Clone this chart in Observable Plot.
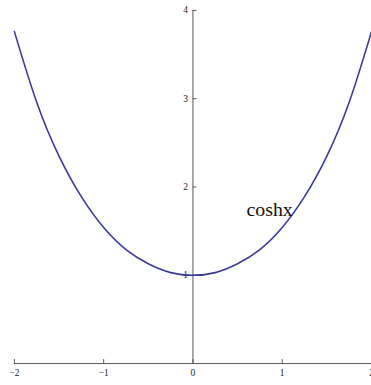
<!DOCTYPE html>
<html>
<head>
<meta charset="utf-8">
<script src="https://cdn.jsdelivr.net/npm/d3@7"></script>
<script src="https://cdn.jsdelivr.net/npm/@observablehq/plot@0.6"></script>
<style>
  html, body { margin: 0; padding: 0; background: #fff; overflow: hidden; }
</style>
</head>
<body>
<div id="chart"></div>
<script>
// Sampled points of the hyperbolic cosine on [-2, 2]
const xs = [-2, -1.75, -1.5, -1.25, -1, -0.75, -0.5, -0.25, 0, 0.25, 0.5, 0.75, 1, 1.25, 1.5, 1.75, 2];
const ys = [3.76, 2.96, 2.35, 1.89, 1.54, 1.29, 1.13, 1.03, 1.00, 1.03, 1.13, 1.29, 1.54, 1.89, 2.35, 2.96, 3.76];

// Axis ticks
const xTicks = [-2, -1, 0, 1, 2];
const yTicks = [1, 2, 3, 4];

// Curve label
const labelText = "coshx";
const labelX = 0.6;
const labelY = 1.74;

const curve = xs.map((x, i) => ({x, y: ys[i]}));
const fmt = d => d < 0 ? "\u2212" + Math.abs(d) : String(d);

const axisColor = "#555";
const serif = "'Liberation Serif', 'DejaVu Serif', serif";

const chart = Plot.plot({
  width: 374,
  height: 385,
  marginLeft: 14,
  marginRight: 0,
  marginTop: 10,
  marginBottom: 19,
  x: {domain: [-2, 2], axis: null},
  y: {domain: [0, 4], axis: null},
  style: {fontFamily: serif, background: "#fff", overflow: "hidden"},
  marks: [
    // axis lines crossing at the origin
    Plot.ruleY([0], {stroke: axisColor, strokeWidth: 1}),
    Plot.ruleX([0], {y1: 0, y2: 4, stroke: axisColor, strokeWidth: 1}),
    // tick marks
    Plot.ruleX(xTicks, {x: d => d, y1: 0, y2: 0.045, stroke: axisColor, strokeWidth: 1}),
    Plot.ruleY(yTicks, {y: d => d, x1: 0, x2: 0.045, stroke: axisColor, strokeWidth: 1}),
    // tick labels
    Plot.text(xTicks, {x: d => d, y: 0, text: fmt, dy: 10, fontSize: 9.5, fill: "#222", lineAnchor: "middle"}),
    Plot.text(yTicks, {x: 0, y: d => d, text: fmt, dx: -5, fontSize: 9.5, fill: "#222", textAnchor: "end", lineAnchor: "middle"}),
    // the curve
    Plot.line(curve, {x: "x", y: "y", curve: "natural", stroke: "#3a3a9c", strokeWidth: 1.6}),
    // curve label
    Plot.text([labelText], {x: labelX, y: labelY, text: d => d, fontSize: 20, textAnchor: "start", lineAnchor: "middle", fill: "#111", fontFamily: serif})
  ]
});

document.getElementById("chart").appendChild(chart);
</script>
</body>
</html>
